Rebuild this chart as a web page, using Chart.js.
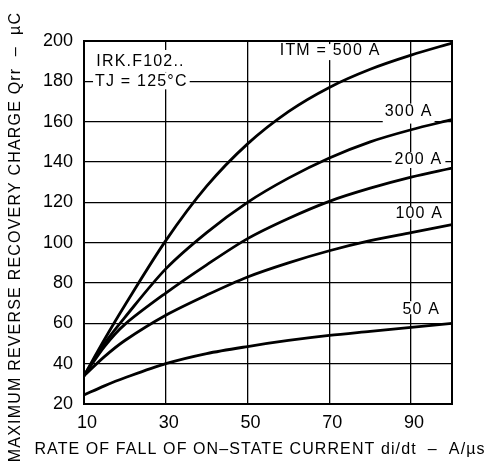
<!DOCTYPE html>
<html>
<head>
<meta charset="utf-8">
<script src="https://cdn.jsdelivr.net/npm/chart.js@4/dist/chart.umd.min.js"></script>
<style>
  html, body { margin: 0; padding: 0; background: #fff; }
  #wrap { width: 497px; height: 467px; }
</style>
</head>
<body>
<div id="wrap"><canvas id="c" width="497" height="467"></canvas></div>
<script>
// di/dt (A/µs) sample points
const diDt = [10, 15, 20, 30, 40, 50, 60, 70, 80, 90, 100];

// Qrr (µC) for each on-state current
const qrr500 = [34, 52, 69, 101, 128, 149, 165, 177, 186, 193, 199];
const qrr300 = [34, 50, 63, 87, 105, 120, 132, 142, 150, 156, 161];
const qrr200 = [34, 48.5, 59.5, 75, 89, 102, 112, 120.5, 127, 132.5, 137];
const qrr100 = [34, 43.5, 51.5, 64, 74, 83, 90, 96, 101, 105, 109];
const qrr50  = [24.5, 29, 33, 40, 45, 48.5, 51.5, 54, 56, 58, 60];

const xTicks = [10, 30, 50, 70, 90];
const yTicks = [20, 40, 60, 80, 100, 120, 140, 160, 180, 200];

const seriesLabels = ['ITM = 500 A', '300 A', '200 A', '100 A', '50 A'];
const deviceName = 'IRK.F102..';
const junctionTemp = 'TJ = 125\u00b0C';
const xTitle = 'RATE OF FALL OF ON\u2013STATE CURRENT di/dt  \u2013  A/\u00b5s';
const yTitle = 'MAXIMUM REVERSE RECOVERY CHARGE Qrr  \u2013  \u00b5C';

const FONT = '"Liberation Sans", Arial, Helvetica, sans-serif';

// Text notes placed in data coordinates; white boxes hide the grid behind them
const notes = [
  { text: deviceName,      x: 13,   y: 189.6, align: 'left',   padX: 2, padTop: 12, padBottom: 10 },
  { text: junctionTemp,    x: 12.7, y: 180,   align: 'left',   padX: 2, padTop: 9,  padBottom: 8 },
  { text: seriesLabels[0], x: 70.2, y: 195,   align: 'center', padX: 3, padTop: 7,  padBottom: 9 },
  { text: seriesLabels[1], x: 89.4, y: 165,   align: 'center', padX: 2, padTop: 8,  padBottom: 12 },
  { text: seriesLabels[2], x: 91.8, y: 141,   align: 'center', padX: 3, padTop: 8,  padBottom: 8 },
  { text: seriesLabels[3], x: 92.0, y: 114.5, align: 'center', padX: 3, padTop: 7,  padBottom: 6 },
  { text: seriesLabels[4], x: 92.5, y: 67,    align: 'center', padX: 3, padTop: 8,  padBottom: 5 }
];

const series = [qrr500, qrr300, qrr200, qrr100, qrr50];

const overlay = {
  id: 'overlay',
  beforeDatasetsDraw(chart) {
    const { ctx, chartArea: a, scales: { x, y } } = chart;
    ctx.save();
    ctx.font = '16px ' + FONT;
    ctx.letterSpacing = '1.2px';
    ctx.textBaseline = 'middle';
    ctx.textAlign = 'left';
    for (const n of notes) {
      const px = x.getPixelForValue(n.x);
      const py = y.getPixelForValue(n.y);
      const w = ctx.measureText(n.text).width;
      const left = n.align === 'left' ? px : px - w / 2;
      ctx.fillStyle = '#fff';
      ctx.fillRect(left - n.padX, py - n.padTop, w + 2 * n.padX, n.padTop + n.padBottom);
      ctx.fillStyle = '#000';
      ctx.fillText(n.text, left, py);
    }
    // plot frame
    ctx.strokeStyle = '#000';
    ctx.lineWidth = 2;
    ctx.strokeRect(a.left, a.top, a.right - a.left, a.bottom - a.top);
    ctx.restore();
  },
  afterDraw(chart) {
    const { ctx } = chart;
    ctx.save();
    ctx.fillStyle = '#000';
    ctx.textAlign = 'center';
    ctx.textBaseline = 'middle';
    ctx.font = '16px ' + FONT;
    ctx.letterSpacing = '1.1px';
    ctx.fillText(xTitle, 260, 450);
    ctx.translate(16, 237);
    ctx.rotate(-Math.PI / 2);
    ctx.letterSpacing = '1.2px';
    ctx.fillText(yTitle, 0, 0);
    ctx.restore();
  }
};

new Chart(document.getElementById('c'), {
  type: 'line',
  data: {
    datasets: series.map((vals, i) => ({
      label: seriesLabels[i],
      data: diDt.map((d, j) => ({ x: d, y: vals[j] })),
      borderColor: '#000',
      borderWidth: 2.8,
      pointRadius: 0,
      fill: false,
      tension: 0.3
    }))
  },
  options: {
    responsive: false,
    animation: false,
    devicePixelRatio: 1,
    layout: { padding: { top: 41, right: 45, left: 0, bottom: 0 } },
    plugins: { legend: { display: false }, tooltip: { enabled: false } },
    scales: {
      x: {
        type: 'linear',
        min: 10, max: 100,
        afterBuildTicks: s => { s.ticks = xTicks.map(v => ({ value: v })); },
        afterFit: s => { s.height = 63; },
        grid: { color: '#000', lineWidth: 1.3, drawTicks: false },
        border: { display: false },
        ticks: { color: '#000', font: { family: FONT, size: 18 }, padding: 8, labelOffset: 3, maxRotation: 0 }
      },
      y: {
        type: 'linear',
        min: 20, max: 200,
        afterBuildTicks: s => { s.ticks = yTicks.map(v => ({ value: v })); },
        afterFit: s => { s.width = 84; },
        grid: { color: '#000', lineWidth: 1.3, drawTicks: false },
        border: { display: false },
        ticks: { color: '#000', font: { family: FONT, size: 18 }, padding: 11 }
      }
    }
  },
  plugins: [overlay]
});
</script>
</body>
</html>
